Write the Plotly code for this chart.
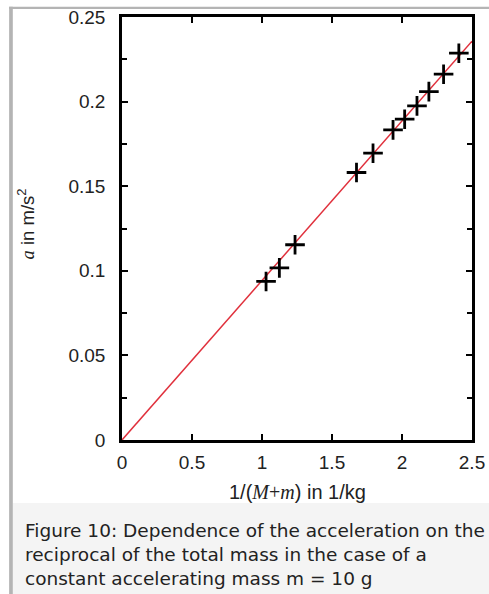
import plotly.graph_objects as go

# Measured acceleration vs. reciprocal total mass
inv_mass = [1.029, 1.124, 1.236, 1.675, 1.793, 1.936, 2.019, 2.107, 2.192, 2.297, 2.406]
accel = [0.0937, 0.1017, 0.1154, 0.1581, 0.1695, 0.1833, 0.1896, 0.1975, 0.2059, 0.2162, 0.2286]

# Linear fit through the origin
fit_x = [0.0, 2.5]
fit_y = [0.0, 0.2357]

x_ticks = [0, 0.5, 1, 1.5, 2, 2.5]
x_tick_text = ["0", "0.5", "1", "1.5", "2", "2.5"]
y_ticks = [0, 0.05, 0.1, 0.15, 0.2, 0.25]
y_tick_text = ["0", "0.05", "0.1", "0.15", "0.2", "0.25"]

caption = ("Figure 10: Dependence of the acceleration on the<br>"
           "reciprocal of the total mass in the case of a<br>"
           "constant accelerating mass m = 10 g")

W, H = 489, 594
L, R, T, B = 121.5, 16.5, 17.3, 153.5

fig = go.Figure()
fig.add_trace(go.Scatter(
    x=fit_x, y=fit_y, mode="lines",
    line=dict(color="#e0303c", width=1.5),
    hoverinfo="skip", showlegend=False,
))
fig.add_trace(go.Scatter(
    x=inv_mass, y=accel, mode="markers",
    marker=dict(symbol="cross-thin", size=14, color="black",
                line=dict(color="black", width=2.8)),
    showlegend=False,
))

axis_font = dict(family="Liberation Sans, Arial, sans-serif", size=19, color="#222")

fig.update_xaxes(
    range=[0, 2.5], tickvals=x_ticks, ticktext=x_tick_text,
    ticks="inside", ticklen=6, tickwidth=2, tickcolor="black",
    showline=True, linewidth=2.5, linecolor="black", mirror="ticks",
    showgrid=False, zeroline=False, tickfont=axis_font,
    ticklabelstandoff=3,
)
fig.update_yaxes(
    range=[0, 0.25], tickvals=y_ticks, ticktext=y_tick_text,
    ticks="inside", ticklen=6, tickwidth=2, tickcolor="black",
    showline=True, linewidth=2.5, linecolor="black", mirror="ticks",
    showgrid=False, zeroline=False, tickfont=axis_font,
    ticklabelstandoff=10,
    minor=dict(dtick=0.025, ticks="inside", ticklen=5, tickwidth=2,
               tickcolor="black", showgrid=False),
)

pw = W - L - R
ph = H - T - B


def px(xp):
    return (xp - L) / pw


def py(yp):
    return (H - B - yp) / ph


shapes = [
    # caption panel
    dict(type="rect", xref="paper", yref="paper",
         x0=px(12), x1=px(W + 5), y0=py(503.5), y1=py(H + 5),
         fillcolor="#f4f4f4", line=dict(width=0), layer="below"),
    # frame border (left and top)
    dict(type="rect", xref="paper", yref="paper",
         x0=px(8.3), x1=px(12), y0=py(7), y1=py(H + 5),
         fillcolor="#b4b4b4", line=dict(width=0), layer="below"),
    dict(type="rect", xref="paper", yref="paper",
         x0=px(8.3), x1=px(W + 5), y0=py(7), y1=py(9.3),
         fillcolor="#b4b4b4", line=dict(width=0), layer="below"),
]

annotations = [
    dict(text="<span style='font-family:Liberation Serif'><i>a</i></span> in m/s<sup>2</sup>",
         xref="paper", yref="paper", x=px(25), y=py(224),
         xanchor="center", yanchor="middle", textangle=-90, showarrow=False,
         font=dict(family="Liberation Sans, Arial, sans-serif", size=18.5, color="#222")),
    dict(text="1/(<span style='font-family:Liberation Serif'><i>M</i>+<i>m</i></span>) in 1/kg",
         xref="paper", yref="paper", x=px(297), y=py(493),
         xanchor="center", yanchor="middle", showarrow=False,
         font=dict(family="Liberation Sans, Arial, sans-serif", size=20, color="#222")),
    dict(text=caption, xref="paper", yref="paper", x=px(22), y=py(555.5),
         xanchor="left", yanchor="middle", align="left", showarrow=False,
         font=dict(family="DejaVu Sans, sans-serif", size=18.5, color="#222")),
]

fig.update_layout(
    width=W, height=H,
    margin=dict(l=L, r=R, t=T, b=B, autoexpand=False),
    paper_bgcolor="white", plot_bgcolor="white",
    shapes=shapes, annotations=annotations,
    xaxis=dict(automargin=False), yaxis=dict(automargin=False),
)

fig.write_html("out.html", config={"displayModeBar": False})
